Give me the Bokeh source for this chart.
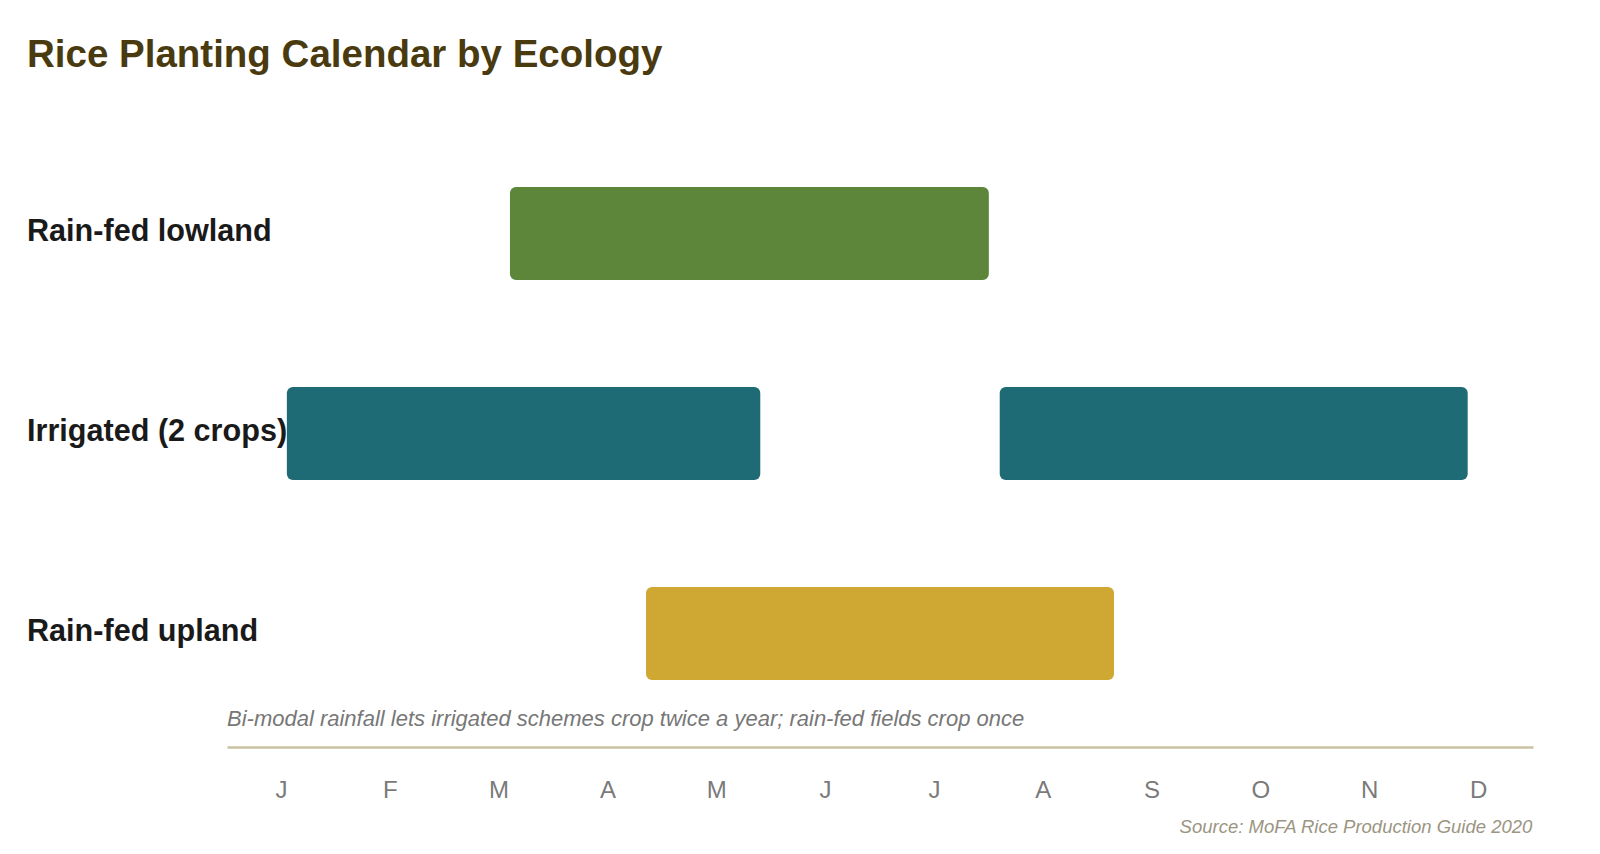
from bokeh.plotting import figure
from bokeh.models import Range1d, FixedTicker, Label, Title
from bokeh.embed import file_html
from bokeh.resources import INLINE

# ---- data ----
ecologies = ["Rain-fed lowland", "Irrigated (2 crops)", "Rain-fed upland"]
seg_ecology = ["Rain-fed lowland", "Irrigated (2 crops)", "Irrigated (2 crops)", "Rain-fed upland"]
seg_start = [2.6, 0.55, 7.1, 3.85]   # months from 1 Jan
seg_end = [7.0, 4.9, 11.4, 8.15]
eco_colors = {"Rain-fed lowland": "#5e863a", "Irrigated (2 crops)": "#1e6b76", "Rain-fed upland": "#cea833"}
months = ["J", "F", "M", "A", "M", "J", "J", "A", "S", "O", "N", "D"]

title_text = "Rice Planting Calendar by Ecology"
note_text = "Bi-modal rainfall lets irrigated schemes crop twice a year; rain-fed fields crop once"
source_text = "Source: MoFA Rice Production Guide 2020"

FONT = "Liberation Sans"

# ---- layout (pixels) ----
W, H = 1600, 854
plot_left, plot_right = 226.5, 1532.5      # span of the month axis
frame_h = 747                              # frame from top of canvas to axis line
row_px = 200                               # vertical distance between rows
first_row_px = 233                         # centre of top row
n = len(ecologies)
nm = len(months)
ppm = (plot_right - plot_left) / nm        # pixels per month

row_y = {e: n - 1 - i for i, e in enumerate(ecologies)}
x0 = -plot_left / ppm
x1 = nm + (W - plot_right) / ppm
y_top = (n - 1) + first_row_px / row_px
y_bot = y_top - frame_h / row_px

p = figure(frame_width=W, frame_height=frame_h,
           min_border_left=0, min_border_right=0, min_border_top=0, min_border_bottom=H - frame_h,
           x_range=Range1d(x0, x1), y_range=Range1d(y_bot, y_top),
           y_axis_location=None, toolbar_location=None, output_backend="svg",
           background_fill_color="white", border_fill_color="white")
p.outline_line_color = None
p.grid.visible = False

p.hbar(y=[row_y[e] for e in seg_ecology], left=seg_start, right=seg_end, height=0.465,
       fill_color=[eco_colors[e] for e in seg_ecology], line_color=None, border_radius=6)

ax = p.xaxis[0]
ax.bounds = (0, nm)
ax.ticker = FixedTicker(ticks=[i + 0.5 for i in range(nm)])
ax.major_label_overrides = {i + 0.5: m for i, m in enumerate(months)}
ax.axis_line_color = "#cbc2a3"
ax.axis_line_width = 2.5
ax.major_tick_line_color = None
ax.minor_tick_line_color = None
ax.major_tick_out = 0
ax.major_tick_in = 0
ax.major_label_standoff = 28
ax.major_label_text_font = FONT
ax.major_label_text_font_size = "24px"
ax.major_label_text_color = "#7a7a7a"

# title
p.add_layout(Label(x=26.5, y=694, x_units="screen", y_units="screen", text=title_text,
                   text_font=FONT, text_font_size="38.5px", text_font_style="bold",
                   text_color="#4a3a10", text_baseline="alphabetic"))

# row labels
for e in ecologies:
    p.add_layout(Label(x=26.5, y=row_y[e], x_units="screen", y_units="data", y_offset=4,
                       text=e, text_font=FONT, text_font_size="30.6px", text_font_style="bold",
                       text_color="#1a1a1a", text_baseline="alphabetic"))

# note
p.add_layout(Label(x=plot_left, y=29, x_units="screen", y_units="screen", text=note_text,
                   text_font=FONT, text_font_size="22px", text_font_style="italic",
                   text_color="#777777", text_baseline="alphabetic"))

# source
p.add_layout(Title(text=source_text, align="right", offset=(W - plot_right), standoff=16,
                   text_font=FONT, text_font_size="18.5px", text_font_style="italic",
                   text_color="#9b9582"), "below")

open("out.html", "w").write(file_html(p, INLINE))
